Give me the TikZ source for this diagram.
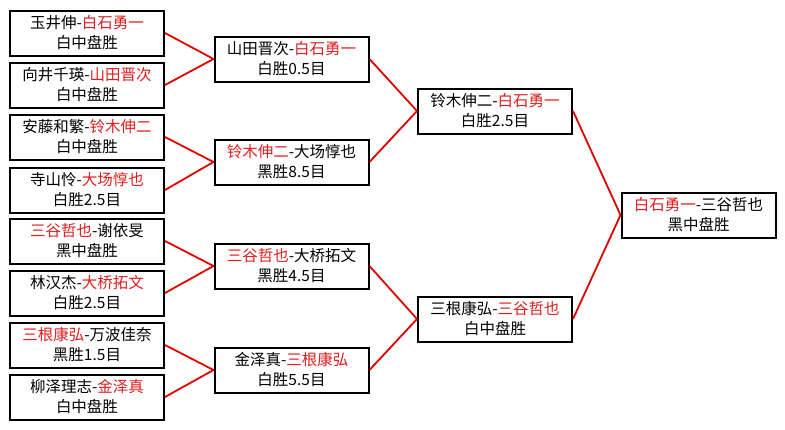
\documentclass[tikz,border=0pt]{standalone}
\usepackage{fontspec}
\setmainfont{Noto Sans CJK SC}
\definecolor{rd}{RGB}{225,30,30}
\definecolor{wirered}{RGB}{225,0,0}
\newcommand\rt[1]{\textcolor{rd}{#1}}
\tikzset{
  mbox/.style={draw=black, line width=2pt, fill=white, minimum width=154pt, minimum height=45pt,
    inner sep=0pt, align=center, font=\fontsize{15.5pt}{20pt}\selectfont},
  wire/.style={draw=wirered, line width=1.8pt}
}
\begin{document}
\begin{tikzpicture}[x=1pt,y=-1pt]
\useasboundingbox[fill=white] (0,0) rectangle (785,429);
% round 1
\node[mbox] (a1) at (87,33)  {玉井伸-\rt{白石勇一}\\白中盘胜};
\node[mbox] (a2) at (87,85)  {向井千瑛-\rt{山田晋次}\\白中盘胜};
\node[mbox] (a3) at (87,137) {安藤和繁-\rt{铃木伸二}\\白中盘胜};
\node[mbox] (a4) at (87,190) {寺山怜-\rt{大场惇也}\\白胜2.5目};
\node[mbox] (a5) at (87,241) {\rt{三谷哲也}-谢依旻\\黑中盘胜};
\node[mbox] (a6) at (87,293) {林汉杰-\rt{大桥拓文}\\白胜2.5目};
\node[mbox] (a7) at (87,345) {\rt{三根康弘}-万波佳奈\\黑胜1.5目};
\node[mbox] (a8) at (87,397) {柳泽理志-\rt{金泽真}\\白中盘胜};
% round 2
\node[mbox] (b1) at (291.5,59)  {山田晋次-\rt{白石勇一}\\白胜0.5目};
\node[mbox] (b2) at (291.5,162) {\rt{铃木伸二}-大场惇也\\黑胜8.5目};
\node[mbox] (b3) at (291.5,266) {\rt{三谷哲也}-大桥拓文\\黑胜4.5目};
\node[mbox] (b4) at (291.5,370) {金泽真-\rt{三根康弘}\\白胜5.5目};
% round 3
\node[mbox] (c1) at (495,111) {铃木伸二-\rt{白石勇一}\\白胜2.5目};
\node[mbox] (c2) at (495,319) {三根康弘-\rt{三谷哲也}\\白中盘胜};
% final
\node[mbox] (d1) at (698.5,215) {\rt{白石勇一}-三谷哲也\\黑中盘胜};
% connectors
\draw[wire] (a1.east) -- (b1.west);
\draw[wire] (a2.east) -- (b1.west);
\draw[wire] (a3.east) -- (b2.west);
\draw[wire] (a4.east) -- (b2.west);
\draw[wire] (a5.east) -- (b3.west);
\draw[wire] (a6.east) -- (b3.west);
\draw[wire] (a7.east) -- (b4.west);
\draw[wire] (a8.east) -- (b4.west);
\draw[wire] (b1.east) -- (c1.west);
\draw[wire] (b2.east) -- (c1.west);
\draw[wire] (b3.east) -- (c2.west);
\draw[wire] (b4.east) -- (c2.west);
\draw[wire] (c1.east) -- (d1.west);
\draw[wire] (c2.east) -- (d1.west);
\end{tikzpicture}
\end{document}
